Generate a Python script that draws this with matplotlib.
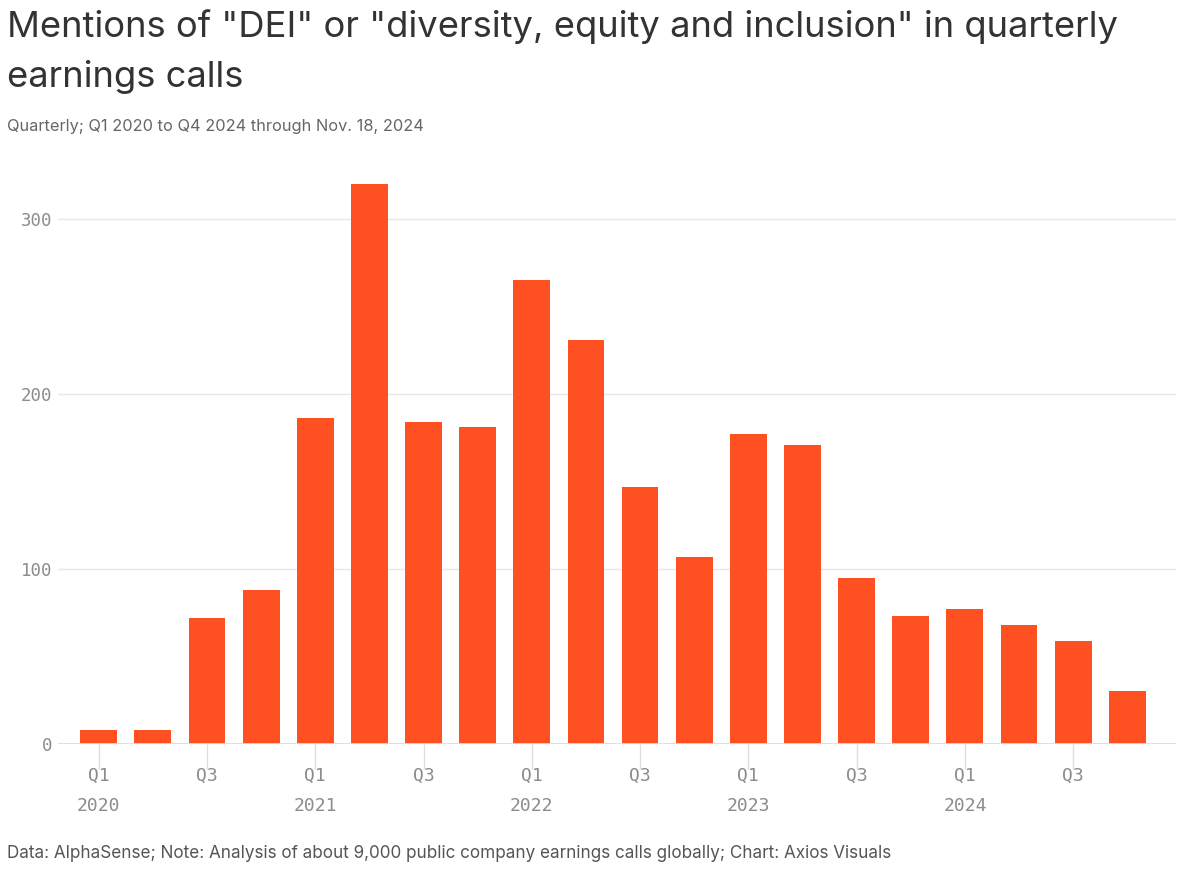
import matplotlib.pyplot as plt
import numpy as np

quarters = ["Q1", "Q2", "Q3", "Q4"] * 5
years = ["2020", "2021", "2022", "2023", "2024"]
mentions = [8, 8, 72, 88, 186, 320, 184, 181, 265, 231,
            147, 107, 177, 171, 95, 73, 77, 68, 59, 30]
yticks = [0, 100, 200, 300]

bar_color = "#FF5022"
grid_color = "#E8E8E8"
tick_color = "#8C8C8C"

fig = plt.figure(figsize=(12, 8.75), dpi=100)
ax = fig.add_axes([0.048, 0.15, 0.932, 0.65])

x = np.arange(len(mentions))
ax.bar(x, mentions, width=0.68, color=bar_color, zorder=3)

ax.set_xlim(-0.76, 19.9)
ax.set_ylim(0, 325)

# x ticks at Q1 and Q3 only
tick_pos = [i for i in x if quarters[i] in ("Q1", "Q3")]
tick_lab = []
for i in tick_pos:
    if quarters[i] == "Q1":
        tick_lab.append(quarters[i] + "\n" + years[i // 4])
    else:
        tick_lab.append(quarters[i])
ax.set_xticks(tick_pos)
ax.set_xticklabels(tick_lab, family="DejaVu Sans Mono", fontsize=13,
                   color=tick_color, linespacing=1.85)
ax.tick_params(axis="x", length=18, width=1, color="#DDDDDD", pad=-1)

ax.set_yticks(yticks)
ax.set_yticklabels([str(v) for v in yticks], family="DejaVu Sans Mono",
                   fontsize=12.5, color=tick_color)
ax.tick_params(axis="y", length=0, pad=4)
for v in yticks[1:]:
    ax.axhline(v, color=grid_color, lw=1, zorder=1)
ax.axhline(0, color="#DDDDDD", lw=2, zorder=4)

for s in ax.spines.values():
    s.set_visible(False)

fig.text(0.006, 0.99, 'Mentions of "DEI" or "diversity, equity and inclusion" in quarterly\nearnings calls',
         fontsize=26.2, color="#333333", va="top", ha="left", family="Inter", linespacing=1.6)
fig.text(0.006, 0.856, "Quarterly; Q1 2020 to Q4 2024 through Nov. 18, 2024",
         fontsize=11.8, color="#666666", va="center", family="Inter")
fig.text(0.006, 0.024, "Data: AlphaSense; Note: Analysis of about 9,000 public company earnings calls globally; Chart: Axios Visuals",
         fontsize=12.3, color="#555555", va="center", family="Inter")

fig.savefig("out.png", dpi=100, facecolor="white")
